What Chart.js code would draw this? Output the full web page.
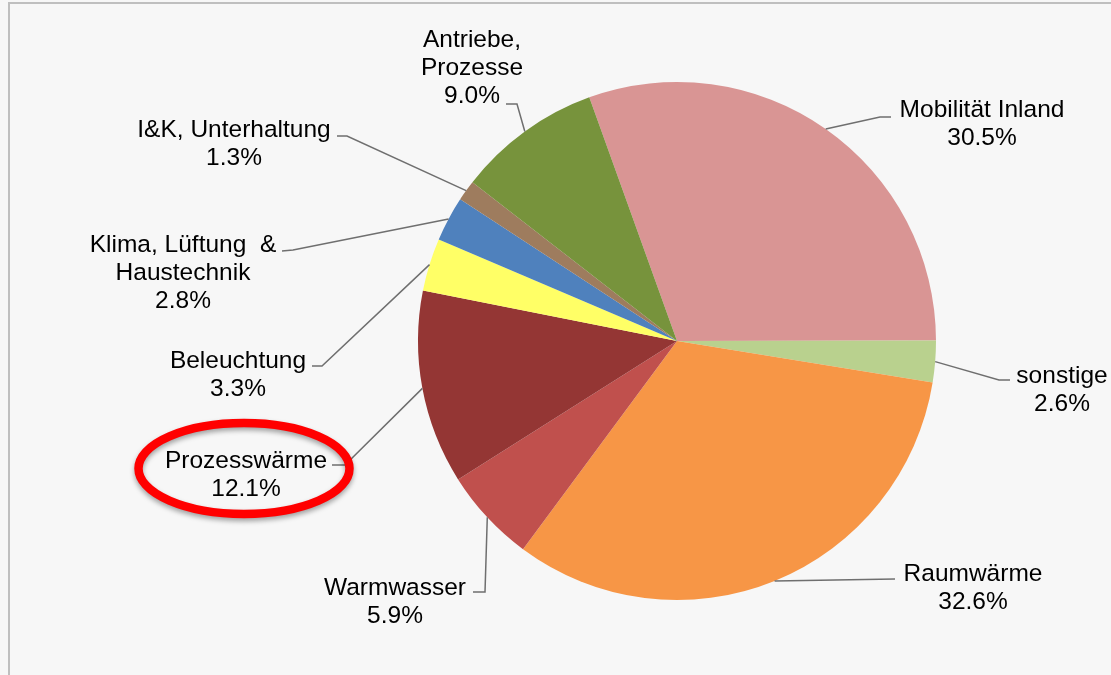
<!DOCTYPE html>
<html>
<head>
  <title>Endenergieverbrauch nach Anwendungen</title>
  <script src="https://cdn.jsdelivr.net/npm/chart.js"></script>
  <style>
    body { margin: 0; background: #f7f7f7; }
    canvas { display: block; }
  </style>
</head>
<body>
  <canvas id="pieChart" width="1111" height="675"></canvas>

  <script>
    // Anwendungsbereiche, im Uhrzeigersinn ab "Mobilität Inland"
    const categories = ['Mobilität Inland', 'sonstige', 'Raumwärme', 'Warmwasser', 'Prozesswärme',
      'Beleuchtung', 'Klima, Lüftung & Haustechnik', 'I&K, Unterhaltung', 'Antriebe, Prozesse'];
    const shares = [30.5, 2.6, 32.6, 5.9, 12.1, 3.3, 2.8, 1.3, 9.0];
    // how the names are broken into lines in the labels
    const labelLines = [['Mobilität Inland'], ['sonstige'], ['Raumwärme'], ['Warmwasser'], ['Prozesswärme'],
      ['Beleuchtung'], ['Klima, Lüftung  &', 'Haustechnik'], ['I&K, Unterhaltung'], ['Antriebe,', 'Prozesse']];
    const colors = ['#d99594', '#b9d18e', '#f79646', '#c0504d', '#943634',
      '#ffff66', '#4f81bd', '#9e7c5e', '#77933c'];

    // label placement (text centre, first line y, end of leader and its elbow)
    const labelPos = [
      { x: 982, y: 110, end: [891, 117], elbow: [880, 117] },
      { x: 1062, y: 376, end: [1010, 380], elbow: [999, 380] },
      { x: 973, y: 574, end: [895, 579], elbow: null },
      { x: 395, y: 588, end: [473, 592], elbow: [485, 592] },
      { x: 246, y: 461, end: [332, 465], elbow: [345, 465] },
      { x: 238, y: 361, end: [312, 366], elbow: [322, 366] },
      { x: 183, y: 245, end: [282, 251], elbow: [293, 250] },
      { x: 234, y: 130, end: [337, 136], elbow: [347, 136] },
      { x: 472, y: 40, end: [506, 104], elbow: [517, 104] }
    ];

    const frameAndLabels = {
      id: 'frameAndLabels',
      beforeDraw(chart) {
        const ctx = chart.ctx;
        ctx.save();
        ctx.fillStyle = '#f7f7f7';
        ctx.fillRect(0, 0, chart.width, chart.height);
        ctx.strokeStyle = '#bfbfbf';
        ctx.lineWidth = 2;
        ctx.beginPath();
        ctx.moveTo(9, chart.height);
        ctx.lineTo(9, 3);
        ctx.lineTo(chart.width, 3);
        ctx.stroke();
        ctx.restore();
      },
      afterDraw(chart) {
        const ctx = chart.ctx;
        const arcs = chart.getDatasetMeta(0).data;
        ctx.save();
        // leader lines
        ctx.strokeStyle = '#6f6f6f';
        ctx.lineWidth = 1.5;
        arcs.forEach((arc, i) => {
          const mid = (arc.startAngle + arc.endAngle) / 2;
          const sx = arc.x + Math.cos(mid) * arc.outerRadius;
          const sy = arc.y + Math.sin(mid) * arc.outerRadius;
          const p = labelPos[i];
          ctx.beginPath();
          ctx.moveTo(sx, sy);
          if (p.elbow) ctx.lineTo(p.elbow[0], p.elbow[1]);
          ctx.lineTo(p.end[0], p.end[1]);
          ctx.stroke();
        });
        // label texts
        ctx.fillStyle = '#000';
        ctx.font = '24.5px "Liberation Sans", Arial, sans-serif';
        ctx.textAlign = 'center';
        ctx.textBaseline = 'middle';
        labelLines.forEach((lines, i) => {
          const p = labelPos[i];
          const all = lines.concat([shares[i].toFixed(1) + '%']);
          all.forEach((t, k) => ctx.fillText(t, p.x, p.y + k * 28));
        });
        // red highlight around Prozesswärme
        ctx.strokeStyle = '#ff0000';
        ctx.lineWidth = 8.5;
        ctx.shadowColor = 'rgba(0,0,0,0.35)';
        ctx.shadowBlur = 5;
        ctx.shadowOffsetY = 3;
        ctx.beginPath();
        ctx.ellipse(244, 468.5, 105.5, 45.5, 0, 0, Math.PI * 2);
        ctx.stroke();
        ctx.restore();
      }
    };

    const ctx = document.getElementById('pieChart').getContext('2d');
    new Chart(ctx, {
      type: 'pie',
      data: {
        labels: categories,
        datasets: [{
          data: shares,
          backgroundColor: colors,
          borderWidth: 0
        }]
      },
      options: {
        responsive: false,
        animation: false,
        rotation: -19.8,
        layout: { padding: { left: 418, right: 175, top: 82, bottom: 75 } },
        plugins: {
          legend: { display: false },
          tooltip: { enabled: false }
        }
      },
      plugins: [frameAndLabels]
    });
  </script>
</body>
</html>
